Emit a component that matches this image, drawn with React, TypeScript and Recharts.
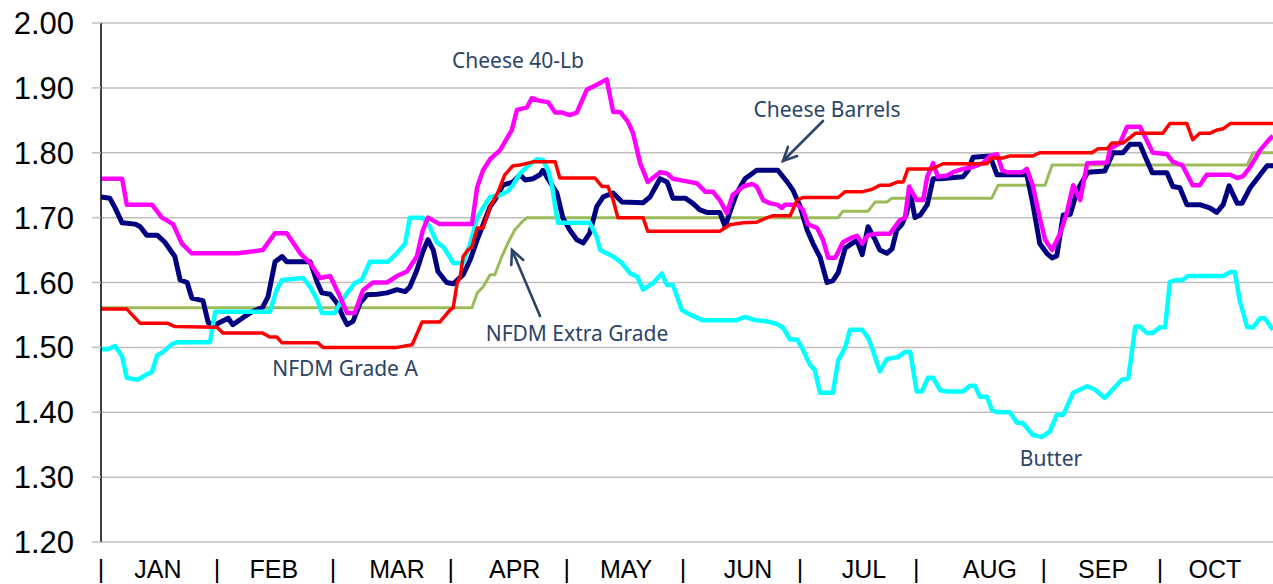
import React from 'react';
import { LineChart, Line, XAxis, YAxis, CartesianGrid } from 'recharts';

// x = trading-day index (0..200), y = price $/lb
const cheese40Lb: [number, number][] = [
  [0, 1.76], [3.6, 1.76], [4.4, 1.72], [8.7, 1.72], [10.4, 1.70], [12.3, 1.69], [13.8, 1.66], [15.5, 1.645],
  [23.4, 1.645], [25.1, 1.647], [27.6, 1.65], [29.7, 1.676], [31.7, 1.676], [34.0, 1.645], [35.7, 1.63],
  [37.4, 1.607], [39.1, 1.61], [40.8, 1.578], [42.0, 1.553], [43.3, 1.553], [44.7, 1.588], [46.4, 1.60],
  [48.8, 1.60], [50.5, 1.61], [52.2, 1.617], [53.9, 1.64], [54.9, 1.68], [55.8, 1.70], [57.8, 1.69],
  [63.3, 1.69], [64.2, 1.747], [65.2, 1.773], [66.4, 1.79], [68.1, 1.804], [70.1, 1.835], [71.0, 1.866],
  [72.7, 1.87], [73.5, 1.884], [74.9, 1.88], [76.3, 1.878], [77.5, 1.862], [78.7, 1.862], [80.0, 1.858],
  [81.2, 1.862], [82.9, 1.897], [84.6, 1.905], [86.3, 1.913], [87.4, 1.863], [88.6, 1.863], [89.9, 1.848],
  [90.8, 1.83], [92.0, 1.784], [93.3, 1.755], [95.4, 1.77], [96.6, 1.768], [97.6, 1.76], [99.3, 1.757],
  [101.7, 1.753], [103.1, 1.74], [104.4, 1.74], [105.6, 1.727], [106.8, 1.707], [107.8, 1.735], [109.6, 1.748],
  [111.1, 1.752], [111.9, 1.748], [113.0, 1.727], [114.2, 1.722], [115.4, 1.72], [116.2, 1.715], [116.7, 1.72],
  [118.8, 1.72], [119.8, 1.712], [120.6, 1.69], [122.2, 1.684], [123.2, 1.666], [124.1, 1.638], [125.3, 1.638],
  [126.6, 1.662], [128.3, 1.67], [129.0, 1.672], [129.9, 1.66], [130.9, 1.673], [132.4, 1.675], [134.6, 1.675],
  [136.3, 1.696], [137.2, 1.70], [137.9, 1.748], [139.2, 1.727], [140.3, 1.727], [141.0, 1.763], [142.0, 1.784],
  [142.8, 1.763], [144.4, 1.765], [145.4, 1.77], [147.1, 1.775], [148.8, 1.778], [150.5, 1.784], [151.7, 1.795],
  [152.9, 1.798], [153.8, 1.773], [154.6, 1.77], [157.2, 1.77], [158.0, 1.775], [159.0, 1.75], [160.2, 1.70],
  [161.1, 1.666], [162.3, 1.65], [163.7, 1.676], [164.8, 1.707], [165.9, 1.75], [167.1, 1.727], [168.3, 1.784],
  [171.7, 1.785], [172.2, 1.806], [173.9, 1.815], [175.1, 1.84], [177.3, 1.84], [179.5, 1.80], [181.9, 1.798],
  [182.9, 1.786], [184.5, 1.781], [186.3, 1.75], [187.5, 1.75], [188.7, 1.766], [192.7, 1.766], [193.9, 1.761],
  [194.9, 1.764], [196.1, 1.778], [197.8, 1.804], [199.5, 1.822], [200, 1.826],
];

const cheeseBarrels: [number, number][] = [
  [0, 1.732], [1.5, 1.73], [2.4, 1.715], [3.6, 1.692], [5.8, 1.69], [6.7, 1.686], [7.8, 1.673], [9.6, 1.673],
  [10.9, 1.662], [12.6, 1.64], [13.5, 1.604], [14.7, 1.60], [15.5, 1.576], [17.4, 1.572], [18.3, 1.538],
  [19.5, 1.535], [20.6, 1.54], [21.7, 1.545], [22.5, 1.535], [24.1, 1.545], [25.8, 1.555], [27.6, 1.562],
  [28.5, 1.578], [29.7, 1.632], [30.9, 1.64], [31.7, 1.632], [35.7, 1.632], [36.9, 1.60], [37.7, 1.584],
  [39.1, 1.582], [40.3, 1.568], [41.3, 1.547], [42.0, 1.535], [43.0, 1.54], [44.2, 1.568], [45.4, 1.581],
  [47.1, 1.582], [48.8, 1.584], [50.5, 1.589], [51.9, 1.586], [52.7, 1.593], [53.9, 1.619], [54.9, 1.647],
  [55.8, 1.666], [56.7, 1.65], [57.5, 1.617], [59.0, 1.60], [60.1, 1.598], [61.8, 1.612], [63.0, 1.635],
  [64.2, 1.666], [65.2, 1.689], [66.4, 1.717], [67.2, 1.727], [68.6, 1.75], [70.3, 1.755], [71.5, 1.766],
  [72.4, 1.758], [73.7, 1.76], [74.9, 1.766], [75.4, 1.773], [76.6, 1.755], [77.8, 1.738], [78.8, 1.70],
  [80.0, 1.681], [81.2, 1.666], [82.3, 1.661], [83.4, 1.676], [84.6, 1.717], [85.7, 1.732], [87.4, 1.738],
  [88.9, 1.724], [92.5, 1.723], [93.7, 1.732], [95.4, 1.76], [96.6, 1.755], [97.6, 1.73], [99.7, 1.73],
  [101.0, 1.722], [102.2, 1.712], [103.4, 1.708], [105.6, 1.708], [106.5, 1.686], [107.3, 1.708], [108.5, 1.738],
  [109.9, 1.76], [111.9, 1.773], [115.5, 1.773], [117.1, 1.755], [118.1, 1.742], [119.3, 1.717], [120.5, 1.681],
  [121.5, 1.66], [122.7, 1.639], [123.9, 1.60], [124.9, 1.603], [125.8, 1.615], [127.0, 1.653], [128.3, 1.661],
  [129.0, 1.665], [129.9, 1.643], [130.9, 1.686], [132.1, 1.666], [132.9, 1.65], [134.1, 1.645], [135.0, 1.652],
  [135.8, 1.681], [136.7, 1.69], [137.5, 1.707], [138.1, 1.738], [138.9, 1.70], [139.8, 1.704], [141.0, 1.72],
  [142.0, 1.76], [143.2, 1.76], [147.1, 1.763], [148.0, 1.773], [148.8, 1.793], [151.7, 1.795], [152.9, 1.766],
  [158.0, 1.766], [159.0, 1.722], [160.2, 1.66], [161.4, 1.645], [162.3, 1.638], [163.1, 1.641], [164.2, 1.704],
  [165.4, 1.705], [166.6, 1.742], [168.4, 1.77], [171.3, 1.772], [172.7, 1.80], [174.4, 1.80], [175.6, 1.813],
  [177.3, 1.813], [178.2, 1.794], [179.4, 1.769], [181.9, 1.769], [182.9, 1.748], [184.1, 1.746], [185.3, 1.72],
  [187.5, 1.72], [189.2, 1.715], [190.4, 1.708], [191.5, 1.72], [192.5, 1.749], [193.9, 1.722], [194.7, 1.722],
  [196.1, 1.746], [197.8, 1.766], [199.0, 1.78], [200, 1.78],
];

const nfdmGradeA: [number, number][] = [
  [0, 1.559], [4.4, 1.559], [6.7, 1.537], [11.4, 1.537], [12.6, 1.532], [19.8, 1.531], [20.8, 1.522],
  [27.6, 1.522], [28.8, 1.516], [30.0, 1.516], [30.9, 1.507], [37.0, 1.507], [37.9, 1.50], [50.5, 1.50],
  [53.1, 1.504], [54.8, 1.539], [57.8, 1.539], [59.6, 1.558], [60.1, 1.561], [60.8, 1.60], [61.3, 1.609],
  [61.8, 1.64], [62.6, 1.65], [63.3, 1.655], [64.2, 1.684], [65.2, 1.684], [66.4, 1.717], [67.7, 1.738],
  [68.9, 1.766], [70.3, 1.78], [71.5, 1.781], [73.7, 1.786], [77.5, 1.786], [78.3, 1.761], [84.3, 1.761],
  [85.5, 1.748], [86.5, 1.748], [87.4, 1.727], [88.2, 1.70], [92.5, 1.70], [93.3, 1.679], [105.6, 1.679],
  [107.3, 1.689], [109.6, 1.692], [111.9, 1.693], [113.7, 1.70], [114.7, 1.703], [117.6, 1.703], [118.8, 1.727],
  [119.8, 1.731], [125.8, 1.731], [127.0, 1.74], [130.0, 1.74], [131.7, 1.744], [132.9, 1.75], [134.6, 1.75],
  [136.0, 1.755], [136.9, 1.755], [137.7, 1.775], [141.8, 1.775], [143.7, 1.783], [151.2, 1.783], [152.0, 1.792],
  [153.9, 1.792], [155.1, 1.795], [159.0, 1.795], [160.2, 1.80], [169.1, 1.80], [170.1, 1.806], [171.7, 1.806],
  [172.5, 1.815], [174.4, 1.815], [176.5, 1.83], [181.2, 1.83], [182.4, 1.845], [185.3, 1.845], [186.3, 1.82],
  [187.5, 1.83], [189.2, 1.83], [190.4, 1.835], [191.5, 1.837], [192.7, 1.845], [200, 1.845],
];

const nfdmExtraGrade: [number, number][] = [
  [0, 1.561], [63.3, 1.561], [64.2, 1.584], [65.2, 1.593], [66.4, 1.612], [67.2, 1.612], [68.4, 1.64],
  [69.5, 1.662], [70.6, 1.681], [71.8, 1.693], [72.7, 1.70], [125.8, 1.70], [126.6, 1.71], [130.9, 1.71],
  [132.1, 1.724], [134.1, 1.724], [135.0, 1.73], [152.0, 1.73], [153.1, 1.75], [161.1, 1.75], [162.3, 1.781],
  [195.6, 1.781], [196.6, 1.80], [200, 1.80],
];

const butter: [number, number][] = [
  [0, 1.497], [1.2, 1.497], [2.4, 1.502], [3.6, 1.486], [4.4, 1.453], [6.3, 1.45], [7.5, 1.457], [8.7, 1.462],
  [9.6, 1.488], [10.6, 1.493], [12.1, 1.505], [13.1, 1.508], [18.6, 1.508], [19.5, 1.555], [28.8, 1.555],
  [30.0, 1.589], [30.9, 1.604], [34.5, 1.607], [35.7, 1.593], [36.9, 1.573], [37.7, 1.553], [39.9, 1.553],
  [40.8, 1.568], [42.2, 1.586], [43.3, 1.599], [44.5, 1.604], [45.9, 1.632], [49.0, 1.632], [50.5, 1.645],
  [51.9, 1.66], [52.7, 1.70], [54.9, 1.70], [56.1, 1.686], [57.3, 1.662], [58.4, 1.655], [59.6, 1.638],
  [60.1, 1.63], [61.8, 1.63], [63.0, 1.66], [64.2, 1.70], [65.2, 1.715], [66.4, 1.732], [68.1, 1.735],
  [69.3, 1.74], [70.3, 1.75], [71.5, 1.768], [72.9, 1.78], [74.4, 1.79], [75.4, 1.789], [76.3, 1.773],
  [77.0, 1.748], [77.5, 1.717], [78.0, 1.692], [83.4, 1.692], [84.6, 1.67], [85.2, 1.65], [87.4, 1.64],
  [88.9, 1.63], [90.3, 1.614], [91.5, 1.609], [92.5, 1.589], [94.2, 1.599], [95.7, 1.614], [96.6, 1.596],
  [97.6, 1.596], [99.1, 1.558], [100.2, 1.552], [102.6, 1.542], [108.5, 1.542], [109.9, 1.547], [111.6, 1.542],
  [113.7, 1.54], [115.4, 1.536], [116.4, 1.53], [117.6, 1.512], [118.8, 1.512], [119.8, 1.496], [121.0, 1.473],
  [121.8, 1.465], [122.7, 1.43], [124.9, 1.43], [125.8, 1.48], [127.0, 1.50], [127.8, 1.527], [129.9, 1.527],
  [130.9, 1.515], [131.7, 1.496], [132.9, 1.463], [134.1, 1.482], [136.0, 1.485], [137.2, 1.493], [138.1, 1.493],
  [139.2, 1.432], [140.1, 1.432], [141.1, 1.453], [142.0, 1.453], [143.2, 1.434], [144.4, 1.432], [147.1, 1.432],
  [148.3, 1.441], [149.1, 1.441], [150.0, 1.424], [151.2, 1.424], [152.0, 1.404], [152.9, 1.40], [155.1, 1.40],
  [156.3, 1.384], [157.2, 1.384], [158.0, 1.376], [159.0, 1.365], [160.6, 1.362], [161.9, 1.37], [163.1, 1.396],
  [164.2, 1.396], [165.9, 1.43], [168.3, 1.44], [169.6, 1.435], [171.3, 1.422], [174.2, 1.45], [175.3, 1.452],
  [176.5, 1.532], [177.3, 1.532], [178.5, 1.522], [179.5, 1.522], [180.7, 1.531], [181.6, 1.531], [182.4, 1.601],
  [183.6, 1.604], [184.6, 1.604], [185.5, 1.61], [191.5, 1.61], [192.7, 1.616], [193.5, 1.616], [194.3, 1.573],
  [195.6, 1.531], [196.6, 1.531], [197.8, 1.545], [198.6, 1.545], [200, 1.527],
];

const yTicks = [1.2, 1.3, 1.4, 1.5, 1.6, 1.7, 1.8, 1.9, 2.0];
const monthNames = ['JAN', 'FEB', 'MAR', 'APR', 'MAY', 'JUN', 'JUL', 'AUG', 'SEP', 'OCT'];
const monthLabelDays = [9.7, 29.5, 50.5, 70.6, 89.6, 110.4, 130.2, 151.7, 171.0, 190.1];
const monthDividerDays = [0, 19.8, 39.6, 59.7, 79.5, 99.3, 119.3, 139.1, 160.9, 180.7];

const toRows = (pts: [number, number][]) => pts.map(([d, v]) => ({ d, v }));

const W = 1273;
const H = 584;
const NOTE = '#2B4467';
const NOTE_FONT = '"Noto Sans", "Open Sans", sans-serif';

const xTickValues = [...monthDividerDays, ...monthLabelDays];

const XTick = (props: any) => {
  const { x, y, payload } = props;
  const v = payload.value;
  const mi = monthLabelDays.indexOf(v);
  const label = mi >= 0 ? monthNames[mi] : '|';
  return (
    <text x={x} y={y + 36} textAnchor="middle" fontSize={25} fill="#000"
      fontFamily='"Liberation Sans", Arial, sans-serif'>
      {label}
    </text>
  );
};

const Arrow = ({ x1, y1, x2, y2 }: { x1: number; y1: number; x2: number; y2: number }) => {
  const a = Math.atan2(y2 - y1, x2 - x1);
  const L = 15;
  const s = Math.PI / 7;
  const p1 = [x2 - L * Math.cos(a - s), y2 - L * Math.sin(a - s)];
  const p2 = [x2 - L * Math.cos(a + s), y2 - L * Math.sin(a + s)];
  return (
    <g stroke={NOTE} strokeWidth={2.6} fill="none" strokeLinecap="round">
      <line x1={x1} y1={y1} x2={x2} y2={y2} />
      <polyline points={`${p1[0]},${p1[1]} ${x2},${y2} ${p2[0]},${p2[1]}`} />
    </g>
  );
};

export default function App() {
  return (
    <div style={{ position: 'absolute', left: 0, top: 0, width: W, height: H, background: '#fff' }}>
      <LineChart width={W} height={H} margin={{ top: 23, right: 0, bottom: 0, left: 0 }}>
        <CartesianGrid horizontal vertical={false} stroke="#BFBFBF" strokeWidth={1.5} />
        <XAxis
          type="number"
          dataKey="d"
          domain={[0, 200]}
          allowDataOverflow
          ticks={xTickValues}
          interval={0}
          tick={<XTick />}
          tickLine={false}
          axisLine={false}
          tickSize={0}
          tickMargin={0}
          height={42}
        />
        <YAxis
          type="number"
          domain={[1.2, 2.0]}
          ticks={yTicks}
          interval={0}
          width={101}
          tickFormatter={(v: number) => v.toFixed(2)}
          tick={{ fontSize: 31, fill: '#000', fontFamily: '"Liberation Sans", Arial, sans-serif' }}
          tickLine={{ stroke: '#BFBFBF', strokeWidth: 1.5 }}
          tickSize={9}
          tickMargin={18}
          axisLine={{ stroke: '#000', strokeWidth: 1.5 }}
        />
        <Line data={toRows(nfdmExtraGrade)} dataKey="v" name="NFDM Extra Grade" stroke="#9BBB59" strokeWidth={3}
          dot={false} activeDot={false} isAnimationActive={false} strokeLinejoin="round" />
        <Line data={toRows(cheeseBarrels)} dataKey="v" name="Cheese Barrels" stroke="#000080" strokeWidth={5}
          dot={false} activeDot={false} isAnimationActive={false} strokeLinejoin="round" />
        <Line data={toRows(butter)} dataKey="v" name="Butter" stroke="#00FFFF" strokeWidth={4.5}
          dot={false} activeDot={false} isAnimationActive={false} strokeLinejoin="round" />
        <Line data={toRows(cheese40Lb)} dataKey="v" name="Cheese 40-Lb" stroke="#FF00FF" strokeWidth={4.5}
          dot={false} activeDot={false} isAnimationActive={false} strokeLinejoin="round" />
        <Line data={toRows(nfdmGradeA)} dataKey="v" name="NFDM Grade A" stroke="#FF0000" strokeWidth={3.5}
          dot={false} activeDot={false} isAnimationActive={false} strokeLinejoin="round" />
      </LineChart>
      <svg width={W} height={H} style={{ position: 'absolute', left: 0, top: 0, pointerEvents: 'none' }}>
        <g fontFamily={NOTE_FONT} fontSize={21} fill={NOTE} textAnchor="middle">
          <text x={518} y={68}>Cheese 40-Lb</text>
          <text x={827} y={117}>Cheese Barrels</text>
          <text x={577} y={341}>NFDM Extra Grade</text>
          <text x={345} y={376}>NFDM Grade A</text>
          <text x={1051} y={466}>Butter</text>
        </g>
        <Arrow x1={823} y1={121} x2={783} y2={161} />
        <Arrow x1={540} y1={316} x2={512} y2={250} />
      </svg>
    </div>
  );
}
